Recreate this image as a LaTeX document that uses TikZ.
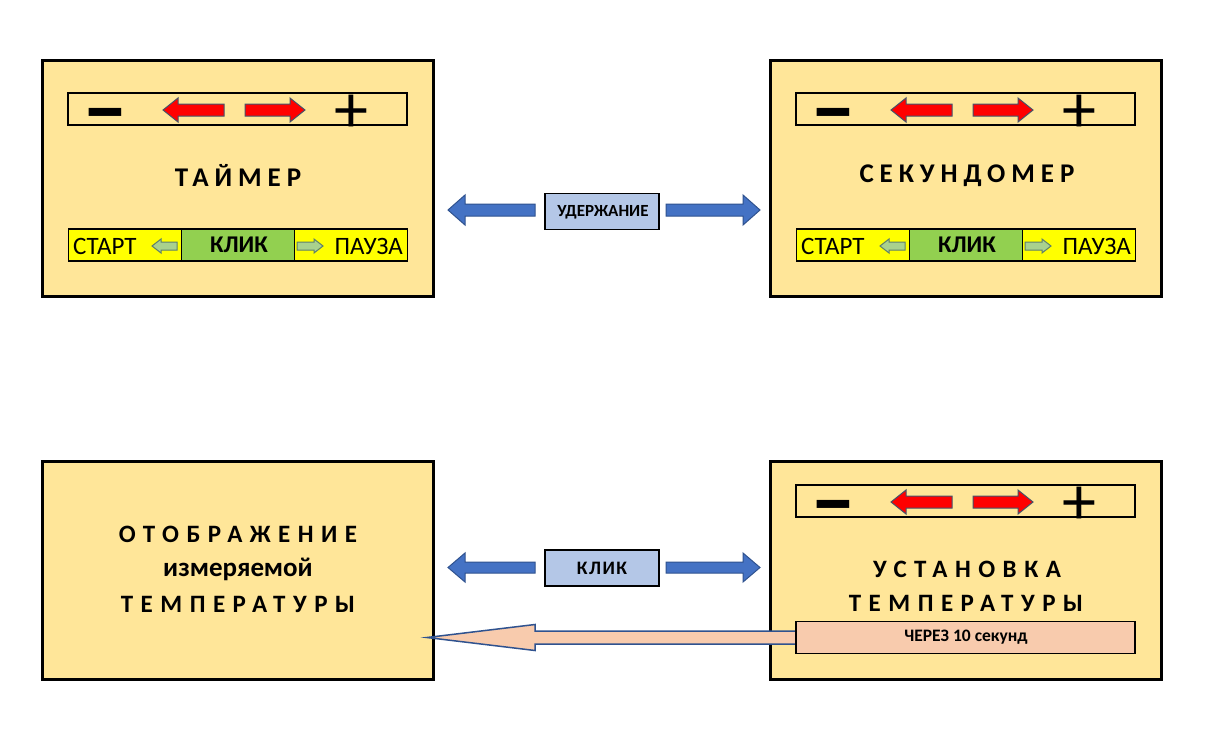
\documentclass[tikz,border=0pt]{standalone}
\usepackage{fontspec}
\setmainfont{Carlito}
\newfontfamily\spacedA[LetterSpace=22]{Carlito}
\newfontfamily\spacedB[LetterSpace=30]{Carlito}
\newfontfamily\spacedC[LetterSpace=8]{Carlito}
\definecolor{boxfill}{HTML}{FFE699}
\definecolor{barY}{HTML}{FFFF00}
\definecolor{barG}{HTML}{92D050}
\definecolor{arrRed}{HTML}{FF0000}
\definecolor{arrRedB}{HTML}{44546A}
\definecolor{arrGr}{HTML}{A9D18E}
\definecolor{arrGrB}{HTML}{5E7F6A}
\definecolor{arrBl}{HTML}{4472C4}
\definecolor{arrBlB}{HTML}{2F528F}
\definecolor{lblFill}{HTML}{B4C7E7}
\definecolor{salmon}{HTML}{F8CBAD}
\newcommand\harr[7]{%
  \pgfmathsetmacro\myhb{(#3>#2) ? (#3-#7) : (#3+#7)}%
  \draw[#1] (#2,#4-#5) -- (\myhb,#4-#5) -- (\myhb,#4-#6) -- (#3,#4) -- (\myhb,#4+#6) -- (\myhb,#4+#5) -- (#2,#4+#5) -- cycle;}
\tikzset{
  mainbox/.style={draw=black, line width=3pt, fill=boxfill, minimum width=391pt, minimum height=236pt, inner sep=0pt},
  strip/.style={draw=black, line width=1.5pt, minimum width=339pt, minimum height=32pt, inner sep=0pt},
  seg/.style={draw=black, line width=1.5pt, minimum width=113pt, minimum height=32pt, inner sep=0pt},
  lblbox/.style={draw=black, line width=1.5pt, fill=lblFill, minimum width=114pt, minimum height=36pt, inner sep=0pt},
  redarr/.style={fill=arrRed, draw=arrRedB, line width=1pt},
  grarr/.style={fill=arrGr, draw=arrGrB, line width=1pt},
  blarr/.style={fill=arrBl, draw=arrBlB, line width=1pt},
  title/.style={font=\fontsize{27}{30}\selectfont\bfseries\spacedA, inner sep=0pt},
  ttl/.style={font=\fontsize{25}{28}\selectfont\bfseries\spacedB, inner sep=0pt},
  barText/.style={font=\fontsize{25}{28}\selectfont, inner sep=0pt},
  minusT/.style={font=\fontsize{92}{96}\selectfont\bfseries, inner sep=0pt},
  plusT/.style={font=\fontsize{68}{72}\selectfont, inner sep=0pt},
}
\begin{document}
\begin{tikzpicture}[x=1pt,y=-1pt]
\useasboundingbox (0,0) rectangle (1224,734);
\fill[white] (0,0) rectangle (1224,734);

% ---------- outer boxes
\node[mainbox] (timer) at (237.5,178) {};
\node[mainbox] (stopw) at (965.5,178) {};
\node[mainbox, minimum height=218pt] (disp) at (237.5,570) {};
\node[mainbox, minimum height=218pt] (sett) at (965.5,570) {};

% ---------- control strips with - <- -> +
\foreach \nm/\dx/\dy in {stripA/0/0, stripB/728/0, stripC/728/392}{
  \node[strip] (\nm) at (237.5+\dx,109+\dy) {};
  \node[minusT] (\nm m) at (105+\dx,123+\dy) {–};
  \node[plusT] (\nm p) at (351+\dx,114+\dy) {+};
  \harr{redarr}{224+\dx}{163+\dx}{110+\dy}{6}{12}{15}
  \harr{redarr}{245+\dx}{305+\dx}{110+\dy}{6}{12}{15}
}

% ---------- titles
\node[title] (tTimer) at (238,175) {ТАЙМЕР};
\node[title] (tStop) at (967,176) {СЕКУНДОМЕР};

% ---------- start/click/pause bars
\foreach \nm/\dx in {barA/0, barB/728}{
  \node[seg, fill=barY] (\nm l) at (125+\dx,245) {};
  \node[seg, fill=barG] (\nm c) at (238+\dx,245) {};
  \node[seg, fill=barY] (\nm r) at (351+\dx,245) {};
  \node[barText, anchor=west] (\nm s) at (73+\dx,246) {СТАРТ};
  \node[barText, anchor=center, font=\fontsize{24}{28}\selectfont\bfseries] (\nm k) at (239+\dx,245) {КЛИК};
  \node[barText, anchor=east] (\nm p) at (403+\dx,246) {ПАУЗА};
  \harr{grarr}{177+\dx}{152+\dx}{246}{4}{7}{9}
  \harr{grarr}{297+\dx}{323+\dx}{246}{4}{7}{9}
}

% ---------- hold label + arrows
\node[lblbox] (hold) at (602,211.5) {};
\node[inner sep=0pt, font=\fontsize{17}{19}\selectfont\bfseries] (holdT) at (603,212) {УДЕРЖАНИЕ};
\harr{blarr}{535}{448}{210}{6}{15}{17}
\harr{blarr}{666}{760}{210}{6}{15}{17}

% ---------- display box text
\node[ttl] (d1) at (238,534) {ОТОБРАЖЕНИЕ};
\node[inner sep=0pt, font=\fontsize{27}{30}\selectfont\bfseries] (d2) at (238,569) {измеряемой};
\node[ttl] (d3) at (238,604) {ТЕМПЕРАТУРЫ};

% ---------- click label + arrows
\node[lblbox] (click) at (602,568) {};
\node[inner sep=0pt, font=\fontsize{19}{22}\selectfont\bfseries\spacedC] (clickT) at (602,568) {КЛИК};
\harr{blarr}{535}{448}{567.5}{5.5}{14.5}{17}
\harr{blarr}{666}{760}{567.5}{5.5}{14.5}{17}

% ---------- setting box text
\node[ttl] (s1) at (967,569) {УСТАНОВКА};
\node[ttl] (s2) at (966,603) {ТЕМПЕРАТУРЫ};

% ---------- big salmon arrow and delay box
\harr{fill=salmon, draw=arrBlB, line width=1.5pt}{800}{427}{637.5}{6.5}{13}{108}
\node[strip, fill=salmon] (delay) at (965.5,637.5) {};
\node[inner sep=0pt, font=\fontsize{17.5}{19}\selectfont\bfseries] (delayT) at (966,637) {ЧЕРЕЗ 10 секунд};
\end{tikzpicture}
\end{document}
